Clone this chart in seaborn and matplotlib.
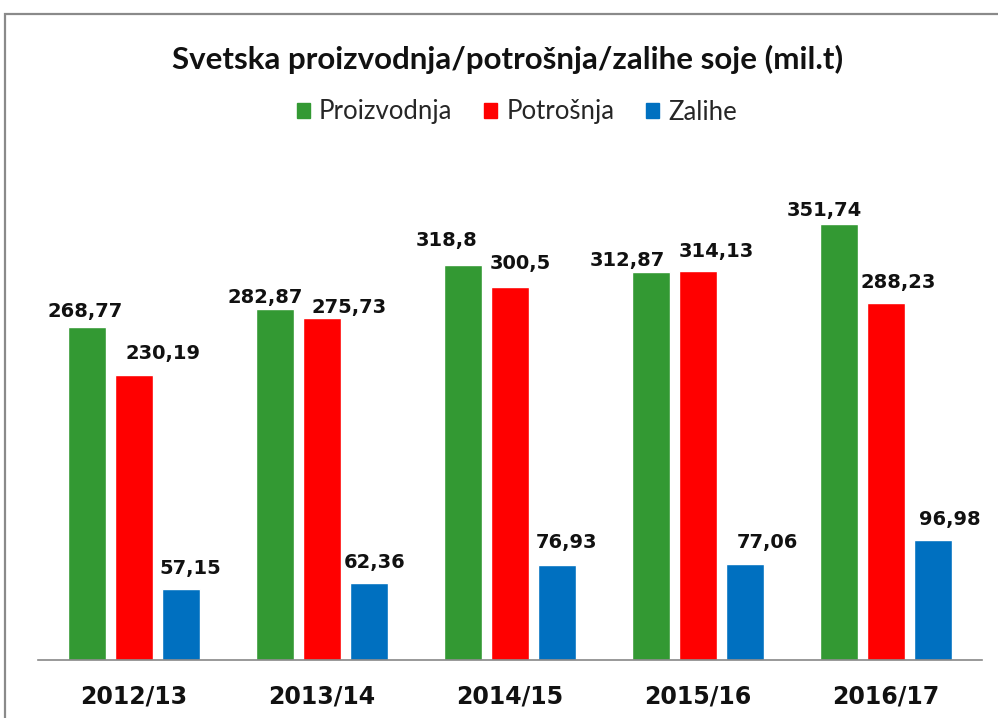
import matplotlib
matplotlib.use("Agg")
import matplotlib.pyplot as plt
from matplotlib.patches import Rectangle
import seaborn as sns
import pandas as pd

godine = ["2012/13", "2013/14", "2014/15", "2015/16", "2016/17"]
serije = ["Proizvodnja", "Potrošnja", "Zalihe"]
proizvodnja = [268.77, 282.87, 318.8, 312.87, 351.74]
potrosnja = [230.19, 275.73, 300.5, 314.13, 288.23]
zalihe = [57.15, 62.36, 76.93, 77.06, 96.98]

boje = ["#339933", "#FF0000", "#0070C0"]

# pomeranje natpisa (px) kao u originalu, po seriji
pomak_x = [[-2, -10, -16, -24, -15],
           [29, 27, 10, 18, 12],
           [9, 6, 9, 22, 17]]
pomak_y = [[15, 12, 24, 12, 13],
           [21, 11, 24, 19, 20],
           [21, 20, 22, 22, 20]]

df = pd.DataFrame({
    "Godina": godine * 3,
    "Serija": [serije[0]] * 5 + [serije[1]] * 5 + [serije[2]] * 5,
    "Vrednost": proizvodnja + potrosnja + zalihe,
})

sns.set_theme(style="white")
plt.rcParams["font.family"] = ["DejaVu Sans"]

fig = plt.figure(figsize=(9.98, 7.18), dpi=100)
ax = fig.add_axes([38 / 998, 1 - 660 / 718, 944 / 998, 460 / 718])

sns.barplot(data=df, x="Godina", y="Vrednost", hue="Serija", hue_order=serije,
            palette=boje, width=0.75, gap=0.2, saturation=1, ax=ax)

ax.set_xlim(-0.51, 4.51)
ax.set_ylim(0, 371)
ax.set_xlabel("")
ax.set_ylabel("")
ax.set_yticks([])
for s in ["left", "top", "right"]:
    ax.spines[s].set_visible(False)
ax.spines["bottom"].set_color("#888888")
ax.spines["bottom"].set_linewidth(1.2)
ax.tick_params(axis="x", length=0, pad=18)
for t in ax.get_xticklabels():
    t.set_fontsize(17)
    t.set_fontweight("bold")
    t.set_color("#111111")

for i, cont in enumerate(ax.containers):
    for j, bar in enumerate(cont):
        v = bar.get_height()
        ax.annotate(str(v).replace(".", ","),
                    (bar.get_x() + bar.get_width() / 2, v),
                    xytext=(pomak_x[i][j], pomak_y[i][j]), textcoords="offset pixels",
                    ha="center", va="center", fontsize=14, fontweight="bold",
                    color="#111111", annotation_clip=False)

ax.get_legend().remove()
handles = [Rectangle((0, 0), 1, 1, color=c) for c in boje]
fig.legend(handles, serije, loc="center", bbox_to_anchor=(517 / 998, 1 - 112 / 718),
           ncol=3, frameon=False, handlelength=0.5, handleheight=0.5,
           handletextpad=0.35, columnspacing=1.25,
           prop={"family": "Lato", "size": 18.5})

fig.text(508 / 998, 1 - 59 / 718, "Svetska proizvodnja/potrošnja/zalihe soje (mil.t)",
         ha="center", va="center", fontsize=22.5, fontweight="bold", family="Lato",
         color="#111111")

# okvir grafikona
fig.patches.append(Rectangle((5 / 998, -0.1), 1.2, 1 - 14 / 718 + 0.1,
                             transform=fig.transFigure, fill=False,
                             edgecolor="#8a8a8a", linewidth=1.6))

fig.savefig("out.png", dpi=100)
